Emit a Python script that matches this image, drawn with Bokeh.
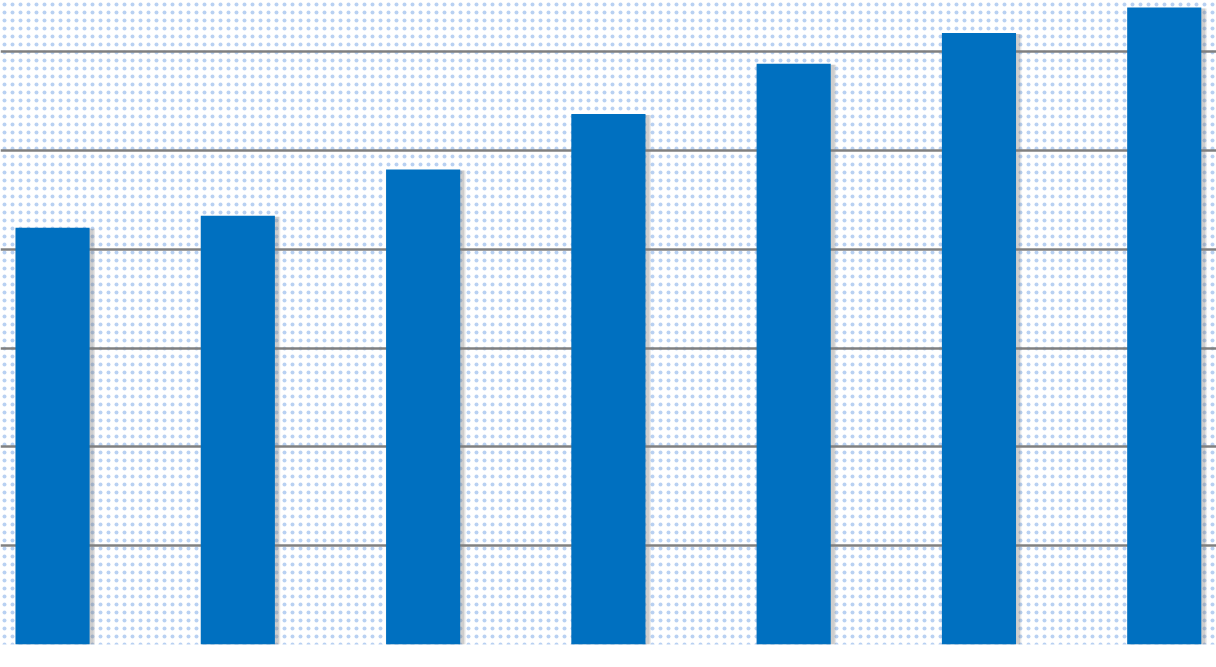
from bokeh.plotting import figure
from bokeh.models import Range1d, ColumnDataSource
from bokeh.embed import file_html
from bokeh.resources import INLINE

positions = [0, 1, 2, 3, 4, 5, 6]
values = [4.22, 4.34, 4.81, 5.37, 5.88, 6.19, 6.45]
grid_ticks = [1, 2, 3, 4, 5, 6]

src = ColumnDataSource(dict(
    x=positions,
    top=values,
    xs=[p + 0.014 for p in positions],
    ts=[v - 0.01 for v in values],
))

p = figure(width=1216, height=667, output_backend="svg", toolbar_location=None,
           x_range=Range1d(-0.281, 6.282), y_range=Range1d(0, 6.52),
           min_border_left=0, min_border_right=0, min_border_top=0, min_border_bottom=23,
           outline_line_color=None, background_fill_color="white", border_fill_color="white")

# dotted background
p.quad(left=-1, right=8, bottom=-0.01, top=7, fill_color="white", line_color=None,
       hatch_pattern="dot", hatch_scale=8, hatch_weight=3, hatch_color="#b9d1f2")

p.xaxis.visible = False
p.yaxis.visible = False
p.xgrid.visible = False
p.ygrid.visible = False

# horizontal gridlines drawn behind the bars
p.hspan(y=grid_ticks, line_color="#808080", line_width=2.5)

# shadow
p.vbar(x="xs", top="ts", bottom=-0.03, width=0.43, source=src,
       fill_color="#7f7f7f", fill_alpha=0.18, line_color=None)
p.vbar(x="xs", top="ts", bottom=-0.02, width=0.415, source=src,
       fill_color="#7f7f7f", fill_alpha=0.25, line_color=None)
p.vbar(x="x", top="top", bottom=0, width=0.4, source=src,
       fill_color="#0070c0", line_color=None)

open("out.html", "w").write(file_html(p, INLINE))
